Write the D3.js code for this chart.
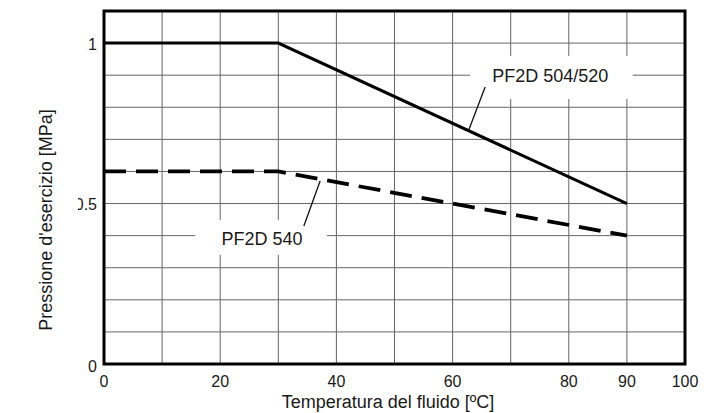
<!DOCTYPE html>
<html>
<head>
<meta charset="utf-8">
<script src="https://cdn.jsdelivr.net/npm/d3@7"></script>
<style>
  body { margin: 0; background: #fff; }
  text { font-family: "Liberation Sans", Arial, sans-serif; fill: #1a1a1a; }
</style>
</head>
<body>
<div id="chart"></div>
<script>
// data
let temps540 = [0, 30, 90];
let press540 = [0.6, 0.6, 0.4];
let temps504 = [0, 30, 90];
let press504 = [1, 1, 0.5];

let xTickLabels = [0, 20, 40, 60, 80, 90, 100];
let yTickLabels = [0, 0.5, 1];
let xGrid = [10, 20, 30, 40, 50, 60, 70, 80, 90];
let yGrid = [0.1, 0.2, 0.3, 0.4, 0.5, 0.6, 0.7, 0.8, 0.9, 1.0];

let svgWidth = 713;
let svgHeight = 413;
let margin = { top: 11, right: 28, bottom: 49, left: 104 };
let width = svgWidth - margin.left - margin.right;
let height = svgHeight - margin.top - margin.bottom;

let svg = d3.select("#chart")
    .append("svg")
    .attr("width", svgWidth)
    .attr("height", svgHeight);

let chartGroup = svg.append("g")
    .attr("transform", `translate(${margin.left}, ${margin.top})`);

let x = d3.scaleLinear().domain([0, 100]).range([0, width]);
let y = d3.scaleLinear().domain([0, 1.1]).range([height, 0]);

// grid
chartGroup.append("g")
    .selectAll("line")
    .data(xGrid)
    .enter()
    .append("line")
    .attr("x1", d => x(d)).attr("x2", d => x(d))
    .attr("y1", 0).attr("y2", height)
    .attr("stroke", "#666").attr("stroke-width", 1);

chartGroup.append("g")
    .selectAll("line")
    .data(yGrid)
    .enter()
    .append("line")
    .attr("x1", 0).attr("x2", width)
    .attr("y1", d => y(d)).attr("y2", d => y(d))
    .attr("stroke", "#666").attr("stroke-width", 1);

// label boxes (white, cut the grid)
let labels = [
    { text: "PF2D 504/520", tx: 76.8, ty: 0.879, box: [63, 91, 0.96, 0.826], lead: [[65.6, 0.863], [62.8, 0.73]] },
    { text: "PF2D 540", tx: 27.2, ty: 0.371, box: [15.7, 38.4, 0.449, 0.34], lead: [[37.2, 0.57], [34.4, 0.43]] }
];

labels.forEach(function(l) {
    chartGroup.append("rect")
        .attr("x", x(l.box[0]))
        .attr("y", y(l.box[2]))
        .attr("width", x(l.box[1]) - x(l.box[0]))
        .attr("height", y(l.box[3]) - y(l.box[2]))
        .attr("fill", "#fff");
    chartGroup.append("text")
        .attr("x", x(l.tx))
        .attr("y", y(l.ty))
        .attr("text-anchor", "middle")
        .attr("font-size", 18)
        .text(l.text);
    chartGroup.append("line")
        .attr("x1", x(l.lead[0][0])).attr("y1", y(l.lead[0][1]))
        .attr("x2", x(l.lead[1][0])).attr("y2", y(l.lead[1][1]))
        .attr("stroke", "#111").attr("stroke-width", 1.3);
});

// series
let line = d3.line().x(d => x(d[0])).y(d => y(d[1]));

chartGroup.append("path")
    .datum(d3.zip(temps504, press504))
    .attr("d", line)
    .attr("fill", "none")
    .attr("stroke", "#000")
    .attr("stroke-width", 3);

chartGroup.append("path")
    .datum(d3.zip(temps540, press540))
    .attr("d", line)
    .attr("fill", "none")
    .attr("stroke", "#000")
    .attr("stroke-width", 3.8)
    .attr("stroke-dasharray", "22,10");

// frame
chartGroup.append("rect")
    .attr("x", 0).attr("y", 0)
    .attr("width", width).attr("height", height)
    .attr("fill", "none")
    .attr("stroke", "#000")
    .attr("stroke-width", 3);

// tick labels
chartGroup.append("g")
    .selectAll("text")
    .data(xTickLabels)
    .enter()
    .append("text")
    .attr("x", d => x(d))
    .attr("y", height + 23)
    .attr("text-anchor", "middle")
    .attr("font-size", 16)
    .text(d => d);

svg.append("clipPath")
    .attr("id", "yclip")
    .append("rect")
    .attr("x", 78).attr("y", 0)
    .attr("width", 40).attr("height", svgHeight);

svg.append("g")
    .attr("clip-path", "url(#yclip)")
    .selectAll("text")
    .data(yTickLabels)
    .enter()
    .append("text")
    .attr("x", 97)
    .attr("y", d => margin.top + y(d) + (d === 0 ? 2 : 1))
    .attr("dy", "0.35em")
    .attr("text-anchor", "end")
    .attr("font-size", 16)
    .text(d => d);

// axis titles
svg.append("text")
    .attr("x", 388)
    .attr("y", 408)
    .attr("text-anchor", "middle")
    .attr("font-size", 18)
    .text("Temperatura del fluido [ºC]");

svg.append("text")
    .attr("transform", "translate(52, 220) rotate(-90)")
    .attr("text-anchor", "middle")
    .attr("font-size", 18)
    .text("Pressione d'esercizio [MPa]");
</script>
</body>
</html>
